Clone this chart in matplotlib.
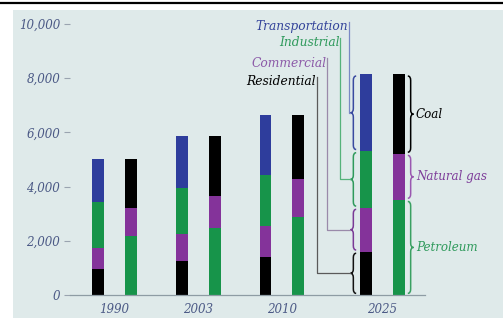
import matplotlib
matplotlib.use("Agg")
import matplotlib.pyplot as plt
from matplotlib.patches import Rectangle, PathPatch
from matplotlib.path import Path
from matplotlib.lines import Line2D
import numpy as np

years = ["1990", "2003", "2010", "2025"]
# by sector (stack bottom -> top)
residential = [970, 1240, 1400, 1600]
commercial = [770, 1020, 1130, 1620]
industrial = [1690, 1680, 1880, 2090]
transportation = [1600, 1910, 2250, 2830]
# by fuel (stack bottom -> top)
petroleum = [2160, 2480, 2870, 3510]
natural_gas = [1040, 1190, 1420, 1700]
coal = [1830, 2180, 2370, 2930]
yticks = [0, 2000, 4000, 6000, 8000, 10000]

BLUE, GREEN, PURPLE, BLACK = "#2e3d9c", "#17944a", "#84339a", "#000000"
BG = "#dfeaea"
TICKC = "#4c5a86"

pos = np.array([0, 1, 2, 3.2])
off, bw = 0.197, 0.143

fig = plt.figure(figsize=(5.03, 3.18), dpi=100, facecolor="white")
fig.patches.append(Rectangle((13 / 503, 0), 1, (318 - 10) / 318, transform=fig.transFigure,
                             facecolor=BG, edgecolor="none", zorder=-10))
fig.lines.append(Line2D([0, 1], [1 - 2.5 / 318] * 2, transform=fig.transFigure, color="black", lw=1.6))

ax = fig.add_axes([70 / 503, 23 / 318, 430 / 503, 271 / 318])
ax.set_facecolor("none")
ax.set_xlim(-0.533, 4.605)
ax.set_ylim(0, 10000)
for s in ax.spines.values():
    s.set_visible(False)
ax.plot([-0.533, pos[-1] + 0.51], [0, 0], color="#8e9ca4", lw=0.9, clip_on=False)

font = dict(family="DejaVu Serif", style="italic")
ax.set_yticks(yticks)
ax.set_yticklabels([f"{v:,}" for v in yticks], color=TICKC, fontsize=8.6, **font)
ax.tick_params(axis="y", length=4, width=0.8, color="#9aa4b0", pad=3)
ax.set_xticks(pos)
ax.set_xticklabels(years, color=TICKC, fontsize=8.6, **font)
ax.tick_params(axis="x", length=0, pad=6)

# sector bars
bottom = np.zeros(4)
for vals, c in [(residential, BLACK), (commercial, PURPLE), (industrial, GREEN), (transportation, BLUE)]:
    ax.bar(pos - off, vals, bw, bottom=bottom, color=c, linewidth=0)
    bottom += vals
# fuel bars
bottom = np.zeros(4)
for vals, c in [(petroleum, GREEN), (natural_gas, PURPLE), (coal, BLACK)]:
    ax.bar(pos + off, vals, bw, bottom=bottom, color=c, linewidth=0)
    bottom += vals


def brace(x0, y0, y1, w, color, side):
    d = min(160, (y1 - y0) / 4)
    ym = (y0 + y1) / 2
    xs = x0 + side * w / 2
    xt = x0 + side * w
    verts = [(x0, y0), (xs, y0), (xs, y0 + d), (xs, ym - d), (xs, ym), (xt, ym),
             (xs, ym), (xs, ym + d), (xs, y1 - d), (xs, y1), (x0, y1)]
    codes = [Path.MOVETO, Path.CURVE3, Path.CURVE3, Path.LINETO, Path.CURVE3, Path.CURVE3,
             Path.CURVE3, Path.CURVE3, Path.LINETO, Path.CURVE3, Path.CURVE3]
    ax.add_patch(PathPatch(Path(verts, codes), fill=False, edgecolor=color, lw=1.1, clip_on=False))
    return xt, ym


i = 3
gap = 60
# sector annotations (left of 2025 sector bar)
left = pos[i] - off - bw / 2
sec = [("Residential", residential, "black", "#5a5a5a", "#111111", -0.514, 7860),
       ("Commercial", commercial, "#8c5aa8", "#9a8aaa", "#7a3a96", -0.394, 8560),
       ("Industrial", industrial, "#2f9a5c", "#55b27a", "#2f9a5c", -0.233, 9300),
       ("Transportation", transportation, "#34449a", "#7a88c4", "#3a4aa0", -0.131, 9890)]
base = 0
for name, vals, tc, lc, bc, lx, ty in sec:
    y0, y1 = base, base + vals[i]
    base = y1
    xt, ym = brace(left - 0.045, y0 + gap, y1 - gap, 0.068, bc, -1)
    xl = left + lx
    ax.plot([xl, xl, xt], [ty + 200, ym, ym], color=lc, lw=0.9, clip_on=False)
    ax.text(xl - 0.01, ty, name, ha="right", va="center", color=tc, fontsize=8.8, **font)

# fuel annotations (right of 2025 fuel bar)
right = pos[i] + off + bw / 2
base = 0
for name, vals, c, tc in [("Petroleum", petroleum, "#3aa062", "#2f9a5c"),
                          ("Natural gas", natural_gas, "#9a58b0", "#7e3e9a"),
                          ("Coal", coal, "black", "black")]:
    y0, y1 = base, base + vals[i]
    base = y1
    xt, ym = brace(right + 0.035, y0 + gap, y1 - gap, 0.068, c, 1)
    ax.text(xt + 0.03, ym, name, ha="left", va="center", color=tc, fontsize=8.6, **font)

fig.savefig("out.png", dpi=100)
